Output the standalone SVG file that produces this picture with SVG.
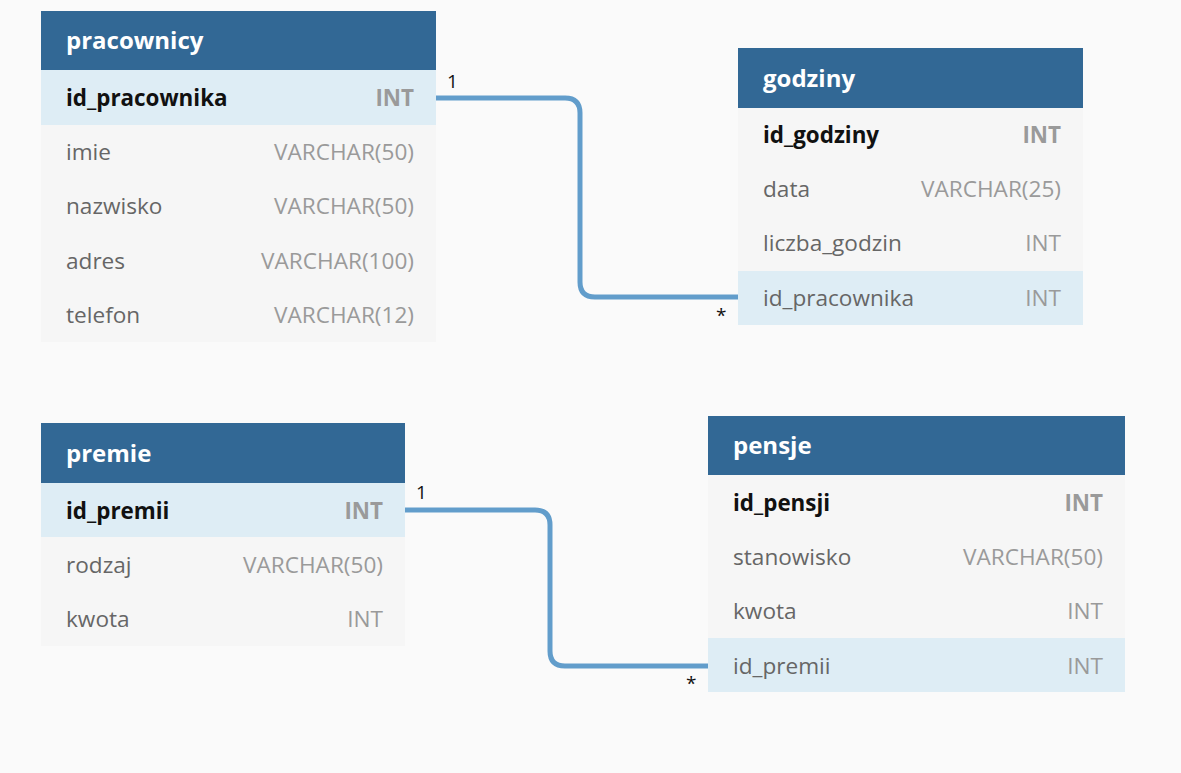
<svg xmlns="http://www.w3.org/2000/svg" width="1181" height="773" viewBox="0 0 1181 773">
<style>
text{font-family:"Open Sans","Liberation Sans",sans-serif}
.hd{fill:#326895}
.row{fill:#f6f6f6}
.sel{fill:#deedf5}
.title{font-size:24px;font-weight:700;fill:#ffffff}
.name{font-size:22.6px;fill:#666666}
.key{font-size:22.4px;font-weight:700;fill:#111111}
.type{font-size:22.6px;fill:#9a9a9a;text-anchor:end}
.ktype{font-size:22.4px;font-weight:700;fill:#9a9a9a;text-anchor:end}
.conn{fill:none;stroke:#629dcb;stroke-width:5}
.lbl{font-size:19px;fill:#111111}
</style>
<rect width="1181" height="773" fill="#fafafa"/>

<g id="connectors">
  <path class="conn" d="M436,98 H565 Q580,98 580,113 V282 Q580,297 595,297 H738"/>
  <path class="conn" d="M405,510 H535 Q550,510 550,525 V651 Q550,666 565,666 H708"/>
  <text class="lbl" x="447" y="88">1</text>
  <text class="lbl" x="716" y="322">*</text>
  <text class="lbl" x="416" y="499">1</text>
  <text class="lbl" x="686" y="690">*</text>
</g>

<g id="pracownicy">
  <rect class="hd" x="41" y="11" width="395" height="59"/>
  <rect class="sel" x="41" y="70" width="395" height="55"/>
  <rect class="row" x="41" y="125" width="395" height="217"/>
  <text class="title" x="66" y="49">pracownicy</text>
  <text class="key" x="66" y="106">id_pracownika</text><text class="ktype" x="414" y="106">INT</text>
  <text class="name" x="66" y="160">imie</text><text class="type" x="414" y="160">VARCHAR(50)</text>
  <text class="name" x="66" y="214">nazwisko</text><text class="type" x="414" y="214">VARCHAR(50)</text>
  <text class="name" x="66" y="269">adres</text><text class="type" x="414" y="269">VARCHAR(100)</text>
  <text class="name" x="66" y="323">telefon</text><text class="type" x="414" y="323">VARCHAR(12)</text>
</g>

<g id="godziny">
  <rect class="hd" x="738" y="48" width="345" height="60"/>
  <rect class="row" x="738" y="108" width="345" height="163"/>
  <rect class="sel" x="738" y="271" width="345" height="54"/>
  <text class="title" x="763" y="87">godziny</text>
  <text class="key" x="763" y="143">id_godziny</text><text class="ktype" x="1061" y="143">INT</text>
  <text class="name" x="763" y="197">data</text><text class="type" x="1061" y="197">VARCHAR(25)</text>
  <text class="name" x="763" y="251">liczba_godzin</text><text class="type" x="1061" y="251">INT</text>
  <text class="name" x="763" y="306">id_pracownika</text><text class="type" x="1061" y="306">INT</text>
</g>

<g id="premie">
  <rect class="hd" x="41" y="423" width="364" height="60"/>
  <rect class="sel" x="41" y="483" width="364" height="54"/>
  <rect class="row" x="41" y="537" width="364" height="109"/>
  <text class="title" x="66" y="462">premie</text>
  <text class="key" x="66" y="519">id_premii</text><text class="ktype" x="383" y="519">INT</text>
  <text class="name" x="66" y="573">rodzaj</text><text class="type" x="383" y="573">VARCHAR(50)</text>
  <text class="name" x="66" y="627">kwota</text><text class="type" x="383" y="627">INT</text>
</g>

<g id="pensje">
  <rect class="hd" x="708" y="416" width="417" height="59"/>
  <rect class="row" x="708" y="475" width="417" height="163"/>
  <rect class="sel" x="708" y="638" width="417" height="54"/>
  <text class="title" x="733" y="454">pensje</text>
  <text class="key" x="733" y="511">id_pensji</text><text class="ktype" x="1103" y="511">INT</text>
  <text class="name" x="733" y="565">stanowisko</text><text class="type" x="1103" y="565">VARCHAR(50)</text>
  <text class="name" x="733" y="619">kwota</text><text class="type" x="1103" y="619">INT</text>
  <text class="name" x="733" y="674">id_premii</text><text class="type" x="1103" y="674">INT</text>
</g>
</svg>
